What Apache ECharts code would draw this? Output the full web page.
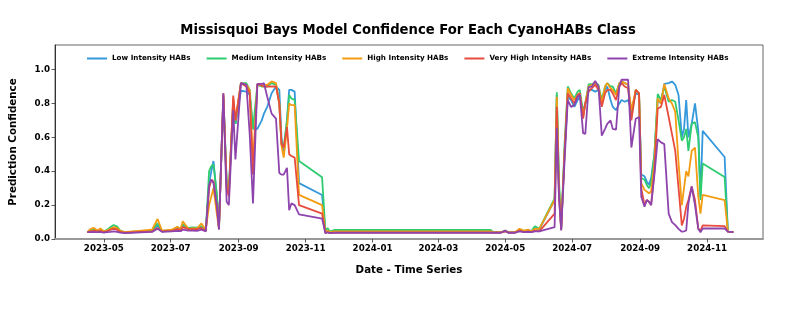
<!DOCTYPE html>
<html>
<head>
<meta charset="utf-8">
<script src="https://cdn.jsdelivr.net/npm/echarts@6/dist/echarts.min.js"></script>
<style>html,body{margin:0;padding:0;background:#fff;}#chart{width:793px;height:317px;}</style>
</head>
<body>
<div id="chart"></div>
<script>
const seriesNames = ['Low Intensity HABs','Medium Intensity HABs','High Intensity HABs','Very High Intensity HABs','Extreme Intensity HABs'];
const xTickLabels = ['2023-05','2023-07','2023-09','2023-11','2024-01','2024-03','2024-05','2024-07','2024-09','2024-11'];
const yTickLabels = [0.0,0.2,0.4,0.6,0.8,1.0];

const dates = [
'2023-04-16','2023-04-19','2023-04-22','2023-04-25','2023-04-28','2023-05-01','2023-05-04','2023-05-07','2023-05-10','2023-05-13',
'2023-05-16','2023-05-20','2023-06-14','2023-06-19','2023-06-23','2023-07-02','2023-07-07','2023-07-10','2023-07-12','2023-07-17',
'2023-07-21','2023-07-25','2023-07-29','2023-08-02','2023-08-05','2023-08-07','2023-08-09','2023-08-12','2023-08-14','2023-08-18',
'2023-08-21','2023-08-23','2023-08-27','2023-08-29','2023-09-03','2023-09-08','2023-09-11','2023-09-14','2023-09-18','2023-09-22',
'2023-09-24','2023-09-27','2023-10-01','2023-10-05','2023-10-08','2023-10-10','2023-10-12','2023-10-15','2023-10-17','2023-10-19',
'2023-10-22','2023-10-26','2023-11-16','2023-11-19','2023-11-21','2023-11-23','2023-11-27','2024-04-18','2024-04-20','2024-04-27',
'2024-05-01','2024-05-04','2024-05-10','2024-05-14','2024-05-18','2024-05-22','2024-05-25','2024-05-28','2024-06-01','2024-06-15',
'2024-06-17','2024-06-19','2024-06-21','2024-06-24','2024-06-27','2024-06-30','2024-07-03','2024-07-06','2024-07-08','2024-07-11',
'2024-07-13','2024-07-16','2024-07-19','2024-07-22','2024-07-25','2024-07-28','2024-07-31','2024-08-02','2024-08-05','2024-08-07',
'2024-08-10','2024-08-13','2024-08-15','2024-08-18','2024-08-21','2024-08-24','2024-08-28','2024-08-31','2024-09-02','2024-09-05',
'2024-09-07','2024-09-09','2024-09-11','2024-09-14','2024-09-17','2024-09-20','2024-09-23','2024-09-27','2024-09-30','2024-10-03',
'2024-10-06','2024-10-09','2024-10-11','2024-10-13','2024-10-15','2024-10-18','2024-10-21','2024-10-24','2024-10-26','2024-10-28',
'2024-11-17','2024-11-20','2024-11-25'
];

const lowIntensity = [
.040,.045,.050,.045,.050,.040,.045,.055,.065,.060,
.045,.038,.045,.080,.045,.050,.060,.055,.080,.060,
.062,.060,.070,.048,.330,.400,.460,.250,.070,.840,
.350,.300,.790,.680,.875,.870,.850,.650,.650,.700,
.740,.780,.860,.900,.880,.600,.500,.700,.880,.880,
.870,.330,.260,.045,.050,.040,.045,.045,.040,.040,
.045,.038,.040,.050,.045,.050,.045,.065,.055,.230,
.850,.300,.060,.500,.840,.820,.780,.820,.840,.760,
.800,.880,.880,.870,.880,.820,.880,.900,.820,.780,
.760,.800,.820,.810,.820,.760,.860,.850,.380,.370,
.340,.320,.360,.500,.820,.800,.915,.920,.930,.910,
.850,.600,.650,.820,.600,.680,.800,.640,.250,.638,
.484,.043,.040
];
const mediumIntensity = [
.040,.050,.055,.050,.055,.045,.055,.070,.082,.075,
.050,.040,.050,.092,.048,.052,.070,.060,.085,.065,
.068,.067,.075,.050,.400,.430,.440,.270,.070,.840,
.330,.280,.800,.680,.920,.920,.880,.650,.910,.900,
.900,.900,.920,.910,.800,.560,.540,.700,.850,.830,
.820,.460,.365,.050,.065,.045,.053,.053,.040,.040,
.048,.040,.040,.055,.048,.050,.048,.075,.060,.240,
.866,.350,.060,.550,.900,.860,.830,.870,.880,.740,
.800,.912,.915,.920,.910,.820,.900,.920,.900,.900,
.860,.920,.930,.920,.910,.720,.880,.860,.360,.350,
.320,.300,.330,.500,.856,.820,.900,.810,.820,.810,
.700,.580,.600,.650,.520,.680,.690,.600,.230,.445,
.366,.043,.040
];
const highIntensity = [
.040,.060,.065,.050,.062,.045,.050,.060,.070,.065,
.048,.040,.055,.118,.050,.055,.072,.058,.105,.060,
.062,.062,.092,.055,.200,.250,.300,.150,.060,.850,
.300,.280,.830,.700,.920,.910,.880,.450,.915,.905,
.910,.910,.930,.920,.800,.550,.480,.650,.800,.790,
.790,.260,.200,.040,.050,.040,.045,.045,.040,.040,
.050,.040,.040,.060,.050,.055,.045,.060,.060,.230,
.840,.300,.060,.500,.890,.850,.820,.850,.860,.720,
.800,.900,.910,.920,.900,.800,.900,.920,.890,.880,
.850,.920,.930,.920,.910,.760,.880,.860,.330,.290,
.280,.270,.280,.450,.830,.800,.915,.830,.800,.750,
.450,.200,.300,.400,.370,.520,.540,.250,.150,.260,
.230,.043,.040
];
const veryHighIntensity = [
.040,.045,.050,.045,.048,.040,.045,.055,.060,.055,
.042,.038,.045,.065,.045,.048,.058,.052,.070,.058,
.058,.058,.065,.047,.300,.350,.340,.200,.060,.860,
.300,.250,.847,.700,.920,.900,.860,.380,.915,.905,
.900,.900,.900,.900,.800,.560,.540,.660,.500,.490,
.480,.200,.150,.035,.040,.035,.038,.038,.037,.037,
.045,.037,.038,.050,.040,.045,.040,.050,.045,.150,
.780,.250,.055,.500,.860,.830,.800,.850,.860,.710,
.800,.870,.890,.910,.880,.780,.860,.880,.880,.860,
.820,.900,.920,.900,.890,.700,.880,.860,.300,.200,
.230,.220,.200,.400,.770,.780,.850,.720,.620,.520,
.300,.080,.120,.190,.230,.310,.230,.060,.050,.080,
.076,.043,.040
];
const extremeIntensity = [
.040,.040,.040,.040,.040,.038,.040,.042,.045,.042,
.038,.035,.042,.060,.042,.045,.048,.046,.055,.050,
.050,.048,.055,.045,.320,.350,.330,.200,.055,.860,
.220,.200,.760,.470,.920,.910,.620,.210,.915,.915,
.920,.840,.740,.710,.390,.380,.380,.420,.170,.210,
.200,.145,.120,.035,.040,.035,.037,.037,.037,.037,
.050,.037,.037,.045,.040,.042,.040,.045,.045,.070,
.656,.250,.050,.450,.820,.780,.790,.840,.850,.625,
.620,.896,.900,.932,.900,.610,.650,.680,.700,.650,
.645,.900,.940,.940,.940,.540,.710,.720,.250,.190,
.230,.220,.200,.380,.590,.570,.560,.150,.100,.082,
.060,.043,.045,.050,.210,.310,.200,.060,.040,.062,
.062,.043,.040
];

const seriesValues = [lowIntensity, mediumIntensity, highIntensity, veryHighIntensity, extremeIntensity];
const colors = ['#3498db','#2ecc71','#f39c12','#e74c3c','#8e44ad'];

function parseDay(s){ const p = s.split('-').map(Number); return new Date(p[0], p[1]-1, p[2] || 1).getTime(); }
const xTickValues = xTickLabels.map(parseDay);
const pad2 = n => (n < 10 ? '0' : '') + n;

const chart = echarts.init(document.getElementById('chart'), null, {renderer: 'canvas'});
const font = 'DejaVu Sans';
chart.setOption({
  animation: false,
  backgroundColor: '#ffffff',
  title: {
    text: 'Missisquoi Bays Model Confidence For Each CyanoHABs Class',
    left: 408, top: 24, textAlign: 'center', padding: 0,
    textStyle: {fontFamily: font, fontWeight: 'bold', fontSize: 13.2, color: '#000'}
  },
  legend: {
    data: seriesNames,
    left: 87, top: 55, padding: 0,
    icon: 'rect',
    itemWidth: 20, itemHeight: 2, itemGap: 16,
    textStyle: {fontFamily: font, fontWeight: 'bold', fontSize: 7.2, color: '#000'}
  },
  grid: {left: 53, right: 30, top: 45, bottom: 78, show: true, borderColor: '#666', borderWidth: 1, containLabel: false},
  xAxis: {
    type: 'value',
    min: parseDay('2023-03-17') + 12*3600*1000,
    max: parseDay('2024-12-22'),
    name: 'Date - Time Series',
    nameLocation: 'middle', nameGap: 26,
    nameTextStyle: {fontFamily: font, fontWeight: 'bold', fontSize: 10.3, color: '#000'},
    axisLine: {show: true, lineStyle: {color: '#999', width: 2}},
    axisTick: {show: true, customValues: xTickValues, length: 3.5, lineStyle: {color: '#333', width: 0.8}},
    axisLabel: {
      customValues: xTickValues,
      fontFamily: font, fontWeight: 'bold', fontSize: 8.7, color: '#000', margin: 5,
      formatter: function(v){ const d = new Date(Number(v)); return d.getFullYear() + '-' + pad2(d.getMonth()+1); }
    },
    splitLine: {show: false}
  },
  yAxis: {
    type: 'value', min: 0, max: 1.145,
    name: 'Prediction Confidence',
    nameLocation: 'middle', nameGap: 37, nameRotate: 90,
    nameTextStyle: {fontFamily: font, fontWeight: 'bold', fontSize: 10.3, color: '#000'},
    axisLine: {show: true, lineStyle: {color: '#333', width: 1}},
    axisTick: {show: true, customValues: yTickLabels, length: 3.5, lineStyle: {color: '#333', width: 0.8}},
    axisLabel: {
      customValues: yTickLabels,
      fontFamily: font, fontWeight: 'bold', fontSize: 8.7, color: '#000', margin: 5,
      formatter: v => Number(v).toFixed(1)
    },
    splitLine: {show: false}
  },
  series: seriesNames.map((name, k) => ({
    name: name, type: 'line', showSymbol: false, symbol: 'none',
    color: colors[k],
    itemStyle: {color: colors[k]},
    lineStyle: {width: 1.8, color: colors[k]},
    data: dates.map((d, i) => [parseDay(d), seriesValues[k][i]])
  }))
});
</script>
</body>
</html>
